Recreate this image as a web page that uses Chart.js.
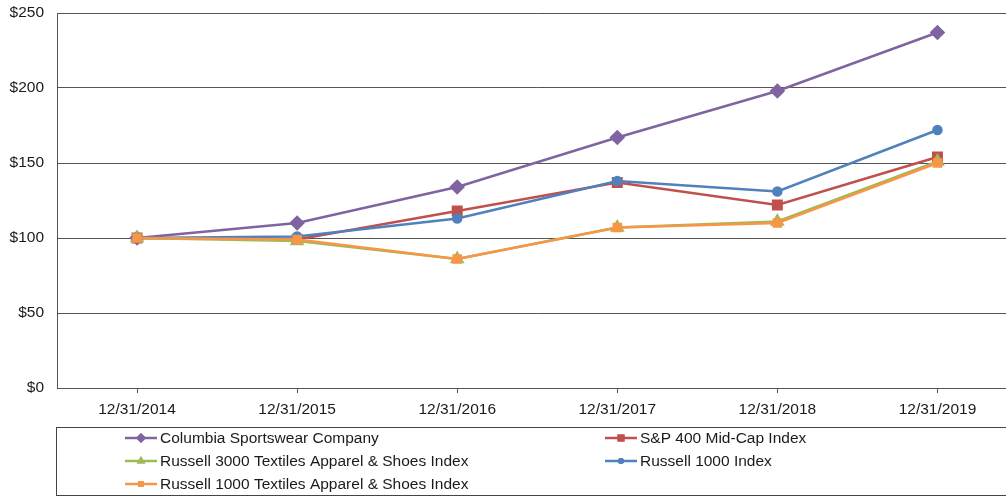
<!DOCTYPE html>
<html>
<head>
<meta charset="utf-8">
<script src="https://cdn.jsdelivr.net/npm/chart.js@4/dist/chart.umd.min.js"></script>
<style>
  html, body { margin: 0; padding: 0; background: #fff; overflow: hidden; }
  #wrap { position: relative; width: 1026px; height: 497px; }
</style>
</head>
<body>
<div id="wrap"><canvas id="lineChart"></canvas></div>
<script>
let anos = ["12/31/2014", "12/31/2015", "12/31/2016", "12/31/2017", "12/31/2018", "12/31/2019"];
let columbia = [100, 110, 134, 167, 198, 237];
let sp400 = [100, 99, 118, 137, 122, 154];
let russell3000Textiles = [100, 98, 86, 107, 111, 151];
let russell1000 = [100, 101, 113, 138, 131, 172];
let russell1000Textiles = [100, 99, 86, 107, 110, 150];
let yTicks = [0, 50, 100, 150, 200, 250];

let series = [
    { label: "Columbia Sportswear Company", data: columbia, color: "#8064A2", style: "rectRot", radius: 6 },
    { label: "S&P 400 Mid-Cap Index", data: sp400, color: "#C0504D", style: "rect", radius: 6 },
    { label: "Russell 3000 Textiles Apparel & Shoes Index", data: russell3000Textiles, color: "#9BBB59", style: "triangle", radius: 6 },
    { label: "Russell 1000 Index", data: russell1000, color: "#4F81BD", style: "circle", radius: 4 },
    { label: "Russell 1000 Textiles Apparel & Shoes Index", data: russell1000Textiles, color: "#F79646", style: "rect", radius: 5 }
];

let fonte = "'Liberation Sans', Arial, sans-serif";

// legenda desenhada em duas colunas dentro de uma caixa
let legendaCaixa = {
    id: "legendaCaixa",
    afterDraw(chart) {
        let c = chart.ctx;
        c.save();
        c.strokeStyle = "#444";
        c.lineWidth = 1;
        c.strokeRect(56.5, 427.5, 1100, 68);
        c.font = "15.5px " + fonte;
        c.textBaseline = "middle";
        chart.data.datasets.forEach((ds, i) => {
            let col = i % 2, row = Math.floor(i / 2);
            let x0 = col === 0 ? 125 : 605;
            let y = 438 + row * 23;
            c.strokeStyle = ds.borderColor;
            c.lineWidth = 2.5;
            c.beginPath();
            c.moveTo(x0, y);
            c.lineTo(x0 + 32, y);
            c.stroke();
            c.fillStyle = ds.borderColor;
            Chart.helpers.drawPoint(c, { pointStyle: ds.pointStyle, radius: ds.pointRadius - 1, borderWidth: 0, rotation: 0 }, x0 + 16, y);
            c.fill();
            c.fillStyle = "#1a1a1a";
            c.fillText(ds.label, x0 + 35, y + 1);
        });
        c.restore();
    }
};

let ctx = document.getElementById("lineChart").getContext("2d");
let lineChart = new Chart(ctx, {
    type: "line",
    data: {
        labels: anos,
        datasets: series.map((s, i) => ({
            label: s.label,
            data: s.data,
            borderColor: s.color,
            backgroundColor: s.color,
            pointBackgroundColor: s.color,
            pointBorderColor: s.color,
            pointStyle: s.style,
            pointRadius: s.radius,
            pointHoverRadius: s.radius,
            borderWidth: 2.5,
            tension: 0,
            fill: false,
            order: series.length - i
        }))
    },
    options: {
        responsive: true,
        maintainAspectRatio: false,
        animation: false,
        layout: { padding: { top: 13, bottom: 74, left: 0, right: 0 } },
        plugins: {
            legend: { display: false },
            tooltip: { enabled: false }
        },
        scales: {
            x: {
                offset: true,
                grid: {
                    display: true,
                    drawOnChartArea: false,
                    offset: false,
                    tickLength: 5,
                    color: "#555"
                },
                border: { display: true, color: "#555", width: 1 },
                ticks: {
                    color: "#1a1a1a",
                    padding: 7,
                    maxRotation: 0,
                    font: { family: fonte, size: 15.5 }
                },
                afterFit(scale) { scale.height = 35; }
            },
            y: {
                min: 0,
                max: 250,
                afterBuildTicks(scale) { scale.ticks = yTicks.map(v => ({ value: v })); },
                grid: { color: "#555", drawTicks: false, lineWidth: 1 },
                border: { display: true, color: "#555", width: 1 },
                ticks: {
                    color: "#1a1a1a",
                    padding: 13,
                    font: { family: fonte, size: 15.5 },
                    callback: v => "$" + v
                },
                afterFit(scale) {
                    scale.width = 57;
                    scale.paddingTop = 0;
                    scale.paddingBottom = 0;
                }
            }
        }
    },
    plugins: [legendaCaixa]
});
</script>
</body>
</html>
